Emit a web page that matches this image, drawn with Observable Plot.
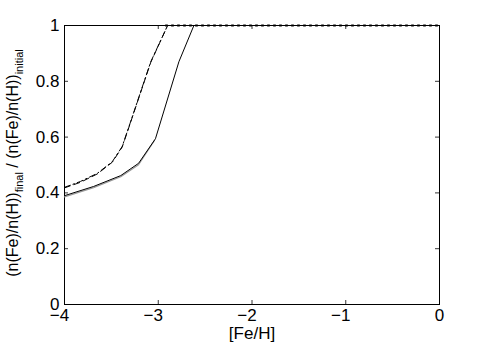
<!DOCTYPE html>
<html><head><meta charset="utf-8">
<script src="https://cdn.jsdelivr.net/npm/d3@7"></script>
<script src="https://cdn.jsdelivr.net/npm/@observablehq/plot@0.6"></script>
<style>body{margin:0;background:#fff}svg{font-family:"Liberation Sans",Arial,Helvetica,sans-serif}</style>
</head><body><div id="chart"></div>
<script>
const xTicksNeg = [-4, -3, -2, -1];
const xTicksZero = [0];
const xTicks = [-4, -3, -2, -1, 0];
const yTicks = [0, 0.2, 0.4, 0.6, 0.8, 1];
const solidX = [-4, -3.69, -3.40, -3.21, -3.03, -2.78, -2.62, 0];
const solidY = [0.39, 0.423, 0.462, 0.506, 0.594, 0.87, 1, 1];
const grayX = [-4, -3.69, -3.40, -3.21, -3.04];
const grayY = [0.386, 0.419, 0.458, 0.501, 0.588];
const dashX = [-4, -3.83, -3.65, -3.49, -3.385, -3.30, -3.08, -2.9];
const dashY = [0.418, 0.438, 0.468, 0.51, 0.564, 0.648, 0.868, 1];
const dashDotX = [-4, -3.83, -3.65, -3.49, -3.385, -3.30, -3.08, -2.9];
const dashDotY = [0.42, 0.441, 0.47, 0.512, 0.566, 0.65, 0.87, 1];
const dotX = [-2.92, 0];
const dotY = [1, 1];

const toPts = (xs, ys) => xs.map((x, i) => ({x, y: ys[i]}));
const fmtX = d => d < 0 ? "\u2212" + (-d) : String(d);
const tickLenX = 4 / 93.75, tickLenY = 4 / 279;
const FS = 17;

const plot = Plot.plot({
  width: 485, height: 346,
  marginLeft: 64, marginRight: 46, marginTop: 25, marginBottom: 42,
  style: {fontSize: FS + "px", fontFamily: '"Liberation Sans", Arial, Helvetica, sans-serif', background: "#fff", color: "#000"},
  x: {domain: [-4, 0]},
  y: {domain: [0, 1]},
  marks: [
    Plot.axisX(xTicksNeg, {tickSize: 0, tickPadding: 4, tickFormat: fmtX, label: null, fontSize: FS, dx: -5}),
    Plot.axisX(xTicksZero, {tickSize: 0, tickPadding: 4, tickFormat: fmtX, label: null, fontSize: FS}),
    Plot.axisY(yTicks, {tickSize: 0, tickPadding: 5, tickFormat: d => String(d), label: null, fontSize: FS}),
    Plot.ruleX(xTicks, {x: d => d, y1: 0, y2: tickLenY, stroke: "#000", strokeWidth: 0.8}),
    Plot.ruleX(xTicks, {x: d => d, y1: 1 - tickLenY, y2: 1, stroke: "#000", strokeWidth: 0.8}),
    Plot.ruleY(yTicks, {y: d => d, x1: -4, x2: -4 + tickLenX, stroke: "#000", strokeWidth: 0.8}),
    Plot.ruleY(yTicks, {y: d => d, x1: -tickLenX, x2: 0, stroke: "#000", strokeWidth: 0.8}),
    Plot.frame({stroke: "#000", strokeWidth: 1}),
    Plot.line(toPts(grayX, grayY), {x: "x", y: "y", stroke: "#999", strokeWidth: 1.2}),
    Plot.line(toPts(solidX, solidY), {x: "x", y: "y", stroke: "#000", strokeWidth: 1}),
    Plot.line(toPts(dashDotX, dashDotY), {x: "x", y: "y", stroke: "#000", strokeWidth: 1, strokeDasharray: "6,3,1.5,3"}),
    Plot.line(toPts(dashX, dashY), {x: "x", y: "y", stroke: "#000", strokeWidth: 1, strokeDasharray: "6,4"}),
    Plot.line(toPts(dotX, dotY), {x: "x", y: "y", stroke: "#000", strokeWidth: 2, strokeDasharray: "1.5,4.5"})
  ]
});
document.getElementById("chart").appendChild(plot);

const svg = d3.select(plot);
svg.append("text").attr("x", 252).attr("y", 339).attr("text-anchor", "middle")
  .attr("font-size", FS).attr("fill", "#000").text("[Fe/H]");
const yl = svg.append("text").attr("transform", "translate(18,163) rotate(-90)")
  .attr("text-anchor", "middle").attr("font-size", 16).attr("fill", "#000");
yl.append("tspan").text("(n(Fe)/n(H))");
yl.append("tspan").attr("font-size", 11).attr("dy", 5).text("final");
yl.append("tspan").attr("dy", -5).text(" / (n(Fe)/n(H))");
yl.append("tspan").attr("font-size", 11).attr("dy", 5).text("initial");
</script></body></html>
